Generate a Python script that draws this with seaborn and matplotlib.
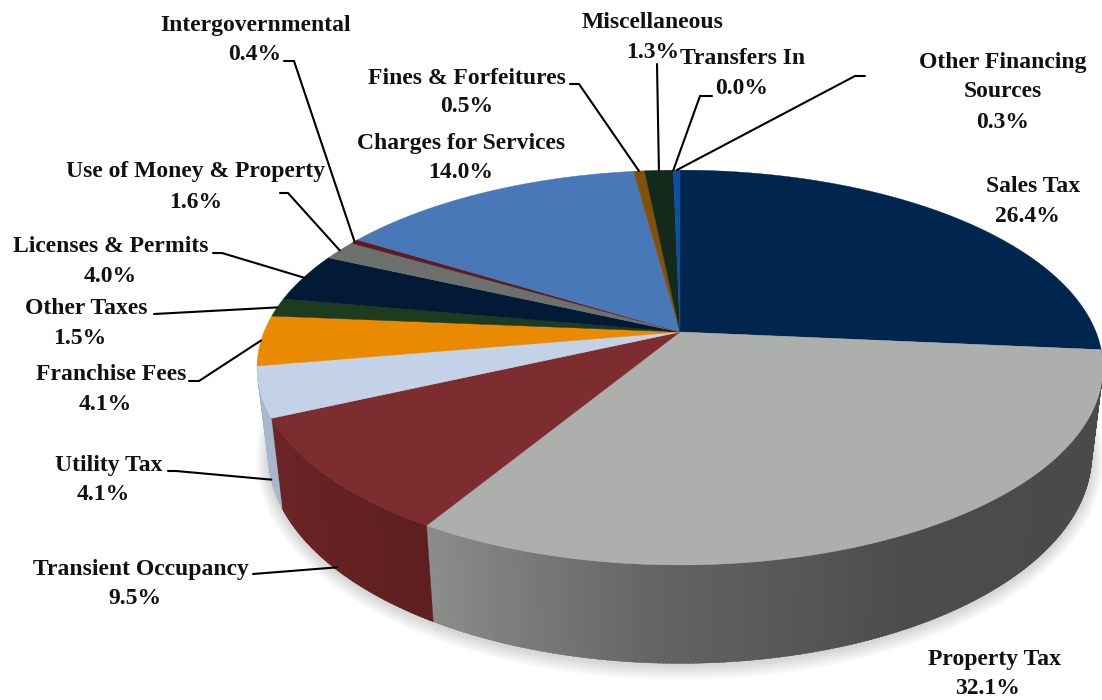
import numpy as np
import matplotlib
matplotlib.use("Agg")
import matplotlib.pyplot as plt
import seaborn as sns

# Slices, clockwise from 12 o'clock
names = ["Sales Tax", "Property Tax", "Transient Occupancy", "Utility Tax", "Franchise Fees",
         "Other Taxes", "Licenses & Permits", "Use of Money & Property", "Intergovernmental",
         "Charges for Services", "Fines & Forfeitures", "Miscellaneous", "Transfers In",
         "Other Financing\nSources"]
values = [26.4, 32.1, 9.5, 4.1, 4.1, 1.5, 4.0, 1.6, 0.4, 14.0, 0.5, 1.3, 0.0, 0.3]
colors = ["#00264f", "#adafac", "#7d2c2f", "#c3d2e6", "#e98a00", "#1c3b1f", "#021a35",
          "#6d716d", "#5c1c20", "#4878b8", "#835009", "#13291a", "#13291a", "#0d4fa3"]

# Label text centres in picture pixels
name_pos = [(1033, 186), (995, 660), (141, 569), (109, 465), (111, 375), (86, 308), (111, 247),
            (196, 172), (256, 25), (461, 144), (467, 78), (653, 22), (743, 59), (1003, 77)]
pct_pos = [(1027, 216), (988, 689), (135, 599), (103, 495), (105, 404), (80, 338), (110, 277),
           (196, 202), (255, 54), (461, 173), (467, 107), (653, 52), (742, 88), (1003, 122)]

# Leader lines: start and elbow next to the label, then down to the slice
leaders = {
    "Transient Occupancy": [(253, 574)],
    "Utility Tax": [(168, 471), (176, 471)],
    "Franchise Fees": [(189, 381), (199, 381)],
    "Other Taxes": [(154, 314)],
    "Licenses & Permits": [(213, 253), (222, 253)],
    "Use of Money & Property": [(280, 193), (288, 193)],
    "Intergovernmental": [(284, 61), (294, 61)],
    "Fines & Forfeitures": [(570, 84), (579, 84)],
    "Miscellaneous": [(657, 64)],
    "Transfers In": [(712, 96), (700, 96)],
    "Other Financing\nSources": [(865, 76), (855, 76)],
}
# how far down the pie wall a leader ends (0 = top rim)
wall_frac = {"Transient Occupancy": 0.97, "Utility Tax": 0.99}

# Wall colours, clockwise along each slice
wall_colors = {
    "Property Tax": ["#4a4b48", "#4a4b48", "#4c4d4a", "#636461", "#8c8d8b"],
    "Transient Occupancy": ["#5f1f1f", "#6c2526"],
    "Utility Tax": ["#a6b7ce", "#a6b7ce"],
}

# Perspective of the pie in picture pixels
cx, cy = 680, 332
tilt = 0.18
top_face = (416, 191, 0)     # half width, half height, drop
floor_face = (405, 202, 85)


def rim(angle, face=top_face):
    a, b, drop = face
    t = np.radians(angle)
    x, y = np.sin(t), -np.cos(t)
    w = 1 - tilt * y
    return cx + a * x / w, cy + drop + b * y / w


sns.set_theme(style="white")
plt.rcParams["font.family"] = ["Liberation Serif", "DejaVu Serif"]

fig = plt.figure(figsize=(11.02, 7.0), dpi=100)
ax = fig.add_axes([0, 0, 1, 1])
ax.set_xlim(0, 1102)
ax.set_ylim(700, 0)
ax.axis("off")

shares = np.array(values) / sum(values) * 360
ends = np.cumsum(shares)
starts = ends - shares

# soft shadow under the pie
ring = np.linspace(0, 360, 361)
for i in range(10, 0, -1):
    grow = i * 1.2
    sx, sy = rim(ring, (floor_face[0] + grow, floor_face[1] + grow, floor_face[2] + 2))
    ax.fill(sx, sy, color="#555555", alpha=0.022, lw=0, zorder=1)

# walls, cut in thin strips so the shading can run along them
for name, a0, a1 in zip(names, starts, ends):
    if name not in wall_colors or a1 <= a0:
        continue
    n = max(int(a1 - a0) * 2, 2)
    edges = np.linspace(a0, a1, n + 1)
    ramp = sns.blend_palette(wall_colors[name], n)
    for j in range(n):
        seg = np.linspace(edges[j], edges[j + 1] + 0.3, 4)
        tx, ty = rim(seg)
        bx, by = rim(seg[::-1], floor_face)
        ax.fill(np.r_[tx, bx], np.r_[ty, by], color=ramp[j], lw=0.3, zorder=2)

# top face
for name, col, a0, a1 in zip(names, colors, starts, ends):
    if a1 <= a0:
        continue
    seg = np.linspace(a0, a1, max(int(a1 - a0) * 2, 3))
    tx, ty = rim(seg)
    ax.fill(np.r_[cx, tx], np.r_[cy, ty], color=col, lw=0.3, zorder=3)

# leader lines
for name, a0, a1 in zip(names, starts, ends):
    if name not in leaders:
        continue
    mid = (a0 + a1) / 2
    f = wall_frac.get(name, 0.0)
    ex = (1 - f) * rim(mid)[0] + f * rim(mid, floor_face)[0]
    ey = (1 - f) * rim(mid)[1] + f * rim(mid, floor_face)[1]
    pts = leaders[name] + [(ex, ey)]
    ax.plot([p[0] for p in pts], [p[1] for p in pts], color="black", lw=1.5, zorder=4,
            solid_joinstyle="miter")

# labels
for name, v, np_, pp in zip(names, values, name_pos, pct_pos):
    ax.text(np_[0], np_[1], name, ha="center", va="center", fontsize=17, fontweight="bold",
            color="#111111", linespacing=1.52, zorder=5)
    ax.text(pp[0], pp[1], f"{v:.1f}%", ha="center", va="center", fontsize=17, fontweight="bold",
            color="#111111", zorder=5)

fig.savefig("out.png", dpi=100)
plt.close(fig)
